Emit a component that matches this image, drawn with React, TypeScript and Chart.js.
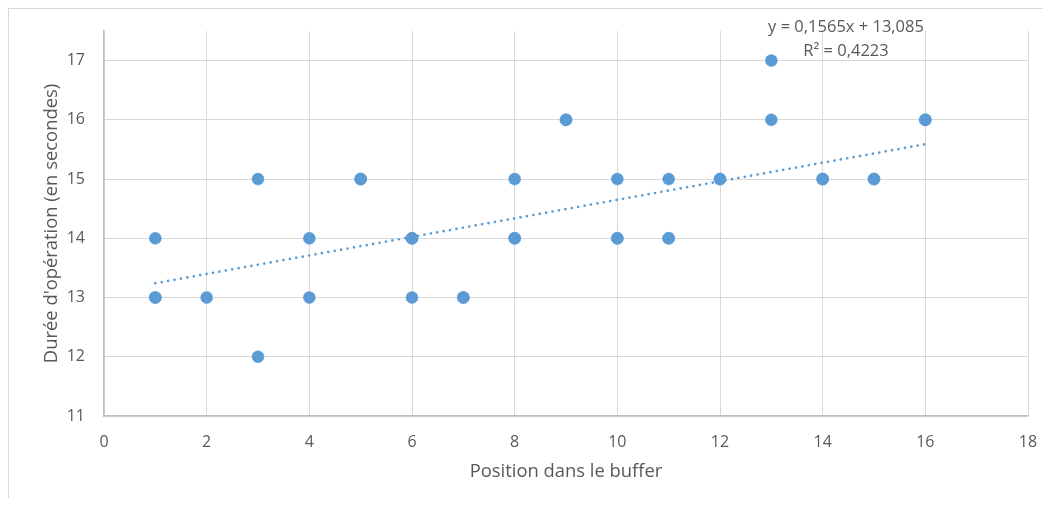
import React, { useEffect, useRef } from "react";
import { Chart, registerables } from "chart.js";

Chart.register(...registerables);

const positions = [1, 1, 1, 2, 3, 3, 4, 4, 5, 5, 6, 6, 6, 7, 7, 8, 8, 8, 9, 9, 10, 10, 10, 11, 11, 11, 12, 12, 13, 13, 14, 14, 15, 15, 16, 16];
const durations = [13, 13, 14, 13, 15, 12, 14, 13, 15, 15, 14, 14, 13, 13, 13, 15, 14, 14, 16, 16, 15, 14, 14, 15, 14, 14, 15, 15, 17, 16, 15, 15, 15, 15, 16, 16];

const trendSlope = 0.1565;
const trendIntercept = 13.085;
const trendRange = [1, 16];
const equationLines = ["y = 0,1565x + 13,085", "R² = 0,4223"];

const xTitle = "Position dans le buffer";
const yTitle = "Durée d'opération (en secondes)";

const FONT = "'Open Sans', 'Noto Sans', sans-serif";
const TEXT = "#595959";
const BLUE = "#5b9bd5";

const W = 1034;
const H = 489;

const equationPlugin = {
  id: "equationLabel",
  afterDatasetsDraw(chart: any) {
    const ctx = chart.ctx;
    ctx.save();
    ctx.fillStyle = TEXT;
    ctx.font = `16.5px ${FONT}`;
    ctx.textAlign = "center";
    ctx.textBaseline = "alphabetic";
    ctx.fillText(equationLines[0], 837, 23);
    ctx.fillText(equationLines[1], 837, 47);
    ctx.restore();
  },
};

export default function App() {
  const ref = useRef<HTMLCanvasElement | null>(null);

  useEffect(() => {
    if (!ref.current) return;
    const points = positions.map((x, i) => ({ x, y: durations[i] }));
    const trend = trendRange.map((x) => ({ x, y: trendSlope * x + trendIntercept }));
    const chart = new Chart(ref.current, {
      type: "scatter",
      data: {
        datasets: [
          {
            type: "line",
            label: "trend",
            data: trend,
            borderColor: BLUE,
            borderWidth: 2.7,
            borderCapStyle: "round",
            borderDash: [0.01, 6.5],
            pointRadius: 0,
            fill: false,
            order: 1,
          } as any,
          {
            label: "Durée",
            data: points,
            backgroundColor: BLUE,
            borderColor: BLUE,
            borderWidth: 0.5,
            pointRadius: 6,
            order: 0,
          },
        ],
      },
      options: {
        responsive: false,
        animation: false,
        layout: { autoPadding: false, padding: { top: 22, right: 15, left: 0, bottom: 0 } },
        plugins: {
          legend: { display: false },
          tooltip: { enabled: false },
        },
        scales: {
          x: {
            type: "linear",
            min: 0,
            max: 18,
            ticks: {
              stepSize: 2,
              color: TEXT,
              font: { family: FONT, size: 16 },
              padding: 17,
            },
            grid: { color: "#d9d9d9", lineWidth: 1, drawTicks: false },
            border: { color: "#bfbfbf", width: 1.5 },
            title: {
              display: true,
              text: xTitle,
              color: TEXT,
              font: { family: FONT, size: 18.4 },
              padding: { top: 0, bottom: 15 },
            },
            afterFit: (s: any) => {
              s.height = 82;
              s.paddingLeft = 0;
              s.paddingRight = 0;
              s.paddingTop = 0;
              s.paddingBottom = 0;
            },
          },
          y: {
            type: "linear",
            min: 11,
            max: 17.5,
            ticks: {
              stepSize: 1,
              includeBounds: false,
              color: TEXT,
              font: { family: FONT, size: 16 },
              padding: 19,
            },
            grid: { color: "#d9d9d9", lineWidth: 1, drawTicks: false },
            border: { color: "#bfbfbf", width: 1.5 },
            title: {
              display: true,
              text: yTitle,
              color: TEXT,
              font: { family: FONT, size: 18.4 },
              padding: { top: 32, bottom: 0 },
            },
            afterFit: (s: any) => {
              s.width = 95;
              s.paddingLeft = 0;
              s.paddingRight = 0;
              s.paddingTop = 0;
              s.paddingBottom = 0;
            },
          },
        },
      },
      plugins: [equationPlugin],
    } as any);
    return () => chart.destroy();
  }, []);

  return (
    <div style={{ borderTop: "1px solid #d9d9d9", borderLeft: "1px solid #d9d9d9", height: H, background: "#fff" }}>
      <canvas ref={ref} width={W} height={H} style={{ display: "block", width: W, height: H }} />
    </div>
  );
}
